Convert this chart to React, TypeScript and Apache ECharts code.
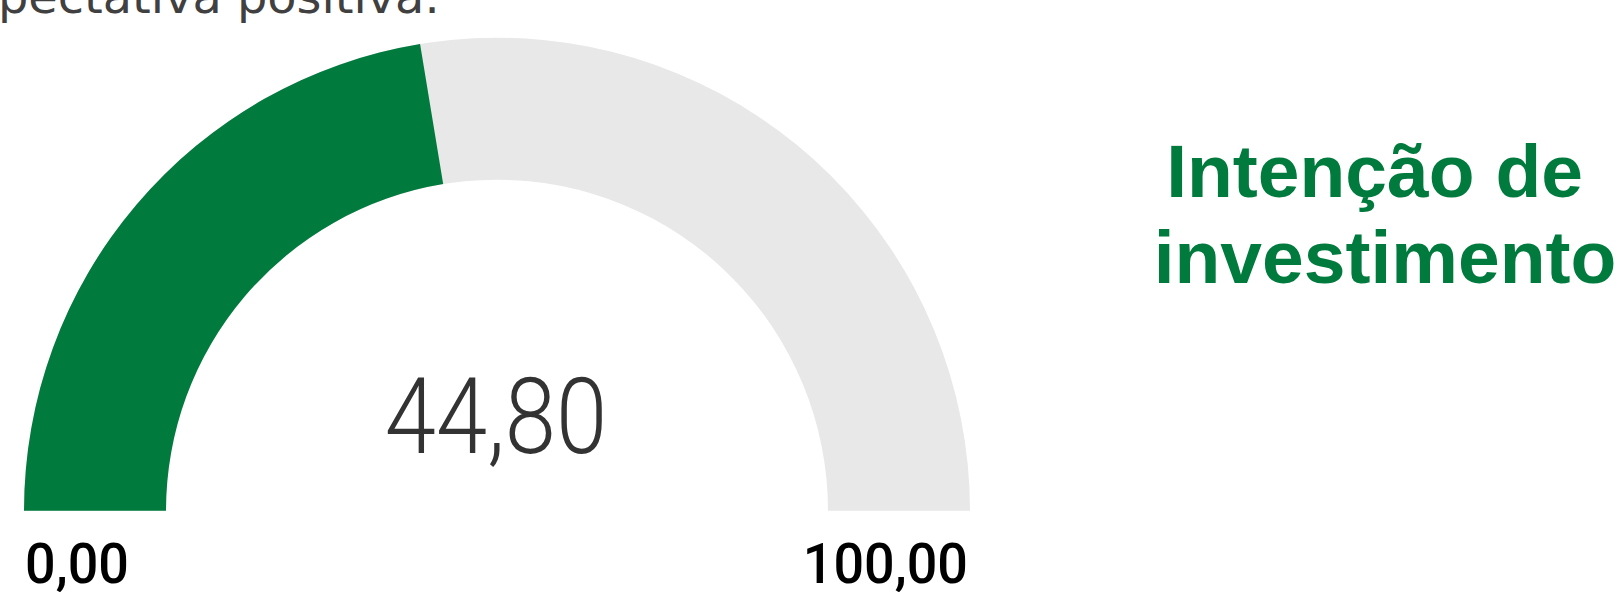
import React, { useEffect, useRef } from "react";
import * as echarts from "echarts";

// Data
const indicatorName: string[] = ["Intenção de ", "investimento"];
const gaugeValue: number[] = [44.8];
const scaleBounds: number[] = [0, 100];
const headerText: string[] = ["pectativa positiva."];

const GREEN = "#007A3D";
const GRAY = "#E8E8E8";

const fmt = (v: number) => v.toFixed(2).replace(".", ",");

export default function App() {
  const ref = useRef<HTMLDivElement>(null);
  useEffect(() => {
    if (!ref.current) return;
    const chart = echarts.init(ref.current, undefined, { renderer: "svg" });
    const [minV, maxV] = scaleBounds;
    const value = gaugeValue[0];
    const cx = 497;
    const cy = 510.7;
    const outerR = 473;
    const innerR = 331;
    chart.setOption({
      animation: false,
      backgroundColor: "#ffffff",
      series: [
        {
          type: "gauge",
          startAngle: 180,
          endAngle: 0,
          min: minV,
          max: maxV,
          center: [cx, cy],
          radius: outerR,
          axisLine: {
            roundCap: false,
            lineStyle: { width: outerR - innerR, color: [[1, GRAY]] },
          },
          progress: {
            show: true,
            roundCap: false,
            width: outerR - innerR,
            itemStyle: { color: GREEN },
          },
          pointer: { show: false },
          anchor: { show: false },
          axisTick: { show: false },
          splitLine: { show: false },
          axisLabel: { show: false },
          title: { show: false },
          detail: { show: false },
          data: [{ value }],
        },
      ],
      graphic: [
        {
          type: "text",
          x: -2,
          y: -3,
          scaleX: 1.04,
          style: {
            text: headerText[0],
            fontFamily: "DejaVu Sans",
            fontSize: 46,
            fill: "#404040",
            align: "left",
            verticalAlign: "middle",
          },
        },
        {
          type: "text",
          x: 496,
          y: 417,
          scaleX: 0.87,
          style: {
            text: fmt(value),
            fontFamily: "Roboto",
            fontWeight: 300,
            fontSize: 106,
            fill: "#333333",
            align: "center",
            verticalAlign: "middle",
          },
        },
        {
          type: "text",
          x: 25,
          y: 564,
          scaleX: 0.98,
          style: {
            text: fmt(minV),
            fontFamily: "Roboto",
            fontWeight: 500,
            fontSize: 55,
            lineHeight: 48,
            fill: "#000000",
            align: "left",
            verticalAlign: "middle",
          },
        },
        {
          type: "text",
          x: 968,
          y: 564,
          scaleX: 0.98,
          style: {
            text: fmt(maxV),
            fontFamily: "Roboto",
            fontWeight: 500,
            fontSize: 55,
            lineHeight: 48,
            fill: "#000000",
            align: "right",
            verticalAlign: "middle",
          },
        },
        {
          type: "text",
          x: 1385,
          y: 214,
          style: {
            text: indicatorName.join("\n"),
            fontFamily: "Liberation Sans",
            fontWeight: "bold",
            fontSize: 75,
            lineHeight: 86,
            fill: GREEN,
            align: "center",
            verticalAlign: "middle",
          },
        },
      ],
    });
    return () => chart.dispose();
  }, []);
  return (
    <div
      ref={ref}
      style={{ position: "absolute", left: 0, top: 0, width: 1624, height: 592 }}
    />
  );
}
